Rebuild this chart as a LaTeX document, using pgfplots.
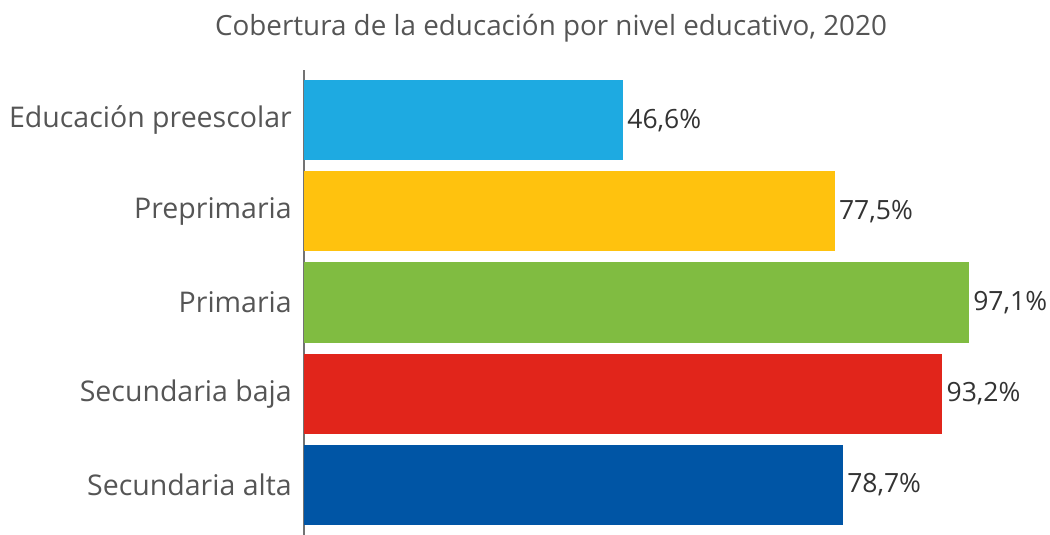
\documentclass[border=0pt]{standalone}
\usepackage{pgfplots}
\pgfplotsset{compat=1.18}
\usepackage{fontspec}
\setmainfont{Open Sans}
\definecolor{c1}{HTML}{1EAAE1}
\definecolor{c2}{HTML}{FFC20E}
\definecolor{c3}{HTML}{80BC41}
\definecolor{c4}{HTML}{E1251B}
\definecolor{c5}{HTML}{0055A5}
\definecolor{lab}{HTML}{555555}
\definecolor{val}{HTML}{333333}
\begin{document}
\begin{tikzpicture}[x=1pt,y=1pt]
\useasboundingbox (0,0) rectangle (1050,535);
\node[font=\fontsize{27.8}{32}\selectfont, text=lab, anchor=center] at (551,507) {Cobertura de la educación por nivel educativo, 2020};
\begin{axis}[
  at={(304pt,0pt)}, anchor=south west,
  scale only axis, width=736pt, height=465pt,
  xmin=0, xmax=107.45,
  ymin=-0.55, ymax=4.55, y dir=reverse,
  xbar, bar width=0.88, bar shift=0pt,
  axis x line=none,
  axis y line*=left,
  y axis line style={draw=black!55, line width=1.6pt, -},
  ytick={0,1,2,3,4},
  yticklabels={Educación preescolar, Preprimaria, Primaria, Secundaria baja, Secundaria alta},
  major tick length=0pt,
  yticklabel style={font=\fontsize{28.5}{32}\selectfont, text=lab, inner sep=0pt, xshift=-12pt},
  point meta=explicit symbolic,
  nodes near coords,
  nodes near coords style={font=\fontsize{26.5}{30}\selectfont, text=val, anchor=west, inner sep=0pt, xshift=4pt},
  clip=false,
]
\addplot[fill=c1, draw=none] coordinates {(46.6,0) [46,6\%]};
\addplot[fill=c2, draw=none] coordinates {(77.5,1) [77,5\%]};
\addplot[fill=c3, draw=none] coordinates {(97.1,2) [97,1\%]};
\addplot[fill=c4, draw=none] coordinates {(93.2,3) [93,2\%]};
\addplot[fill=c5, draw=none] coordinates {(78.7,4) [78,7\%]};
\end{axis}
\end{tikzpicture}
\end{document}
